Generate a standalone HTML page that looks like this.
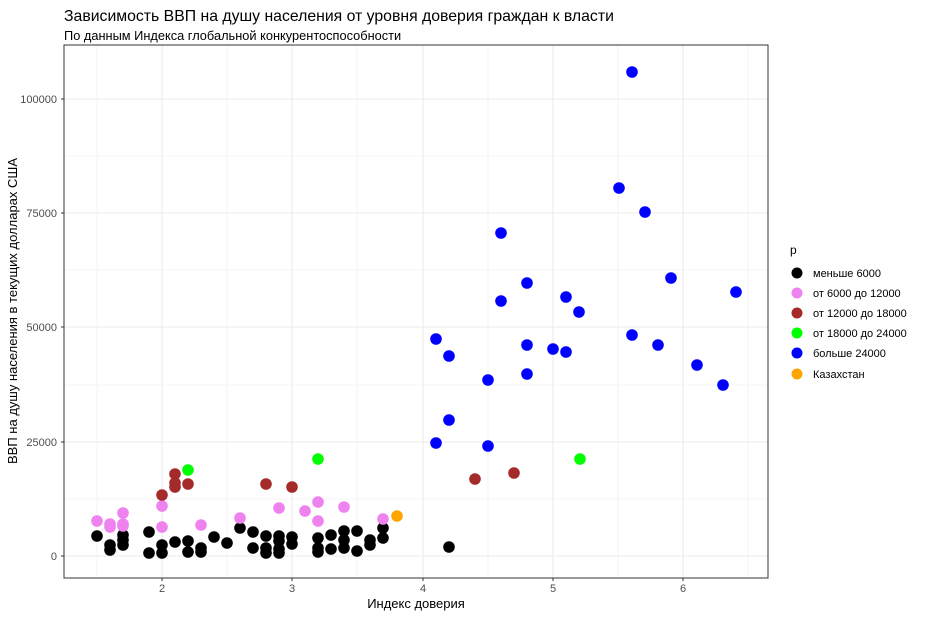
<!DOCTYPE html>
<html><head><meta charset="utf-8"><style>body{margin:0;background:#fff}svg{display:block;font-family:"Liberation Sans","DejaVu Sans",sans-serif}</style></head>
<body>
<svg id="s" width="944" height="617" viewBox="0 0 944 617" xmlns="http://www.w3.org/2000/svg">
<rect width="944" height="617" fill="#fff"/>
<text x="64" y="21" font-size="15.8" fill="#000">Зависимость ВВП на душу населения от уровня доверия граждан к власти</text>
<text x="64" y="40" font-size="12.8" fill="#000">По данным Индекса глобальной конкурентоспособности</text>
<g id="grid"></g>
<g id="pts"></g>
<rect x="64" y="45" width="704" height="533" fill="none" stroke="#333" stroke-width="1"/>
<g font-size="11" fill="#4d4d4d" text-anchor="end">
<text x="57" y="103">100000</text><text x="57" y="217">75000</text><text x="57" y="331">50000</text><text x="57" y="446">25000</text><text x="57" y="560">0</text>
</g>
<g font-size="11" fill="#4d4d4d" text-anchor="middle">
<text x="162" y="592">2</text><text x="292" y="592">3</text><text x="423" y="592">4</text><text x="553" y="592">5</text><text x="683" y="592">6</text>
</g>
<text x="416" y="608" font-size="13" text-anchor="middle">Индекс доверия</text>
<text transform="translate(17,311) rotate(-90)" font-size="13" text-anchor="middle">ВВП на душу населения в текущих долларах США</text>
<text x="790" y="254" font-size="12">p</text>
<g font-size="11">
<circle cx="797" cy="273" r="5.5" fill="#000"/><text x="813" y="277">меньше 6000</text>
<circle cx="797" cy="293" r="5.5" fill="#ee82ee"/><text x="813" y="297">от 6000 до 12000</text>
<circle cx="797" cy="313" r="5.5" fill="#a52a2a"/><text x="813" y="317">от 12000 до 18000</text>
<circle cx="797" cy="333" r="5.5" fill="#00ff00"/><text x="813" y="337">от 18000 до 24000</text>
<circle cx="797" cy="353" r="5.5" fill="#0000ff"/><text x="813" y="357">больше 24000</text>
<circle cx="797" cy="374" r="5.5" fill="#ffa500"/><text x="813" y="378">Казахстан</text>
</g>
</svg>
<script>
var NS="http://www.w3.org/2000/svg",g=document.getElementById("grid"),p=document.getElementById("pts");
function L(x1,y1,x2,y2,w){var l=document.createElementNS(NS,"line");l.setAttribute("x1",x1);l.setAttribute("y1",y1);l.setAttribute("x2",x2);l.setAttribute("y2",y2);l.setAttribute("stroke","#ebebeb");l.setAttribute("stroke-width",w);g.appendChild(l);}
[97,227,357,488,618,748].forEach(function(x){L(x,45,x,578,0.6)});
[162,292,423,553,683].forEach(function(x){L(x,45,x,578,1.1)});
[499,385,270,156].forEach(function(y){L(64,y,768,y,0.6)});
[556,442,327,213,99].forEach(function(y){L(64,y,768,y,1.1)});
var tk=[[57,556],[57,442],[57,327],[57,213],[57,99]];
tk.forEach(function(t){var l=document.createElementNS(NS,"line");l.setAttribute("x1",61);l.setAttribute("x2",64);l.setAttribute("y1",t[1]);l.setAttribute("y2",t[1]);l.setAttribute("stroke","#333");p.parentNode.appendChild(l);});
[162,292,423,553,683].forEach(function(x){var l=document.createElementNS(NS,"line");l.setAttribute("x1",x);l.setAttribute("x2",x);l.setAttribute("y1",578);l.setAttribute("y2",581);l.setAttribute("stroke","#333");p.parentNode.appendChild(l);});
function D(c,a){a.forEach(function(q){var e=document.createElementNS(NS,"circle");e.setAttribute("cx",q[0]);e.setAttribute("cy",q[1]);e.setAttribute("r",5.8);e.setAttribute("fill",c);p.appendChild(e);});}
D("#000",[[97,536],[110,545],[110,550],[123,535],[123,540],[123,545],[149,532],[149,553],[162,545],[162,553],[175,542],[188,541],[188,552],[201,548],[201,552],[214,537],[227,543],[240,528],[253,532],[253,548],[266,536],[266,548],[266,553],[279,536],[279,541],[279,549],[279,553],[292,537],[292,544],[318,538],[318,548],[318,552],[331,535],[331,549],[344,531],[344,540],[344,548],[357,531],[357,551],[370,540],[370,545],[383,528],[383,538],[449,547]]);
D("#ee82ee",[[97,521],[110,524],[110,527],[123,513],[123,524],[123,526],[162,506],[162,527],[201,525],[240,518],[279,508],[305,511],[318,502],[318,521],[344,507],[383,519]]);
D("#a52a2a",[[162,495],[175,474],[175,483],[175,487],[188,484],[266,484],[292,487],[475,479],[514,473]]);
D("#00ff00",[[188,470],[318,459],[580,459]]);
D("#ffa500",[[397,516]]);
D("#0000ff",[[436,339],[449,356],[436,443],[449,420],[488,380],[488,446],[501,233],[501,301],[527,283],[527,345],[527,374],[553,349],[566,297],[566,352],[579,312],[619,188],[632,335],[632,72],[645,212],[658,345],[671,278],[697,365],[723,385],[736,292]]);
</script>
</body></html>
